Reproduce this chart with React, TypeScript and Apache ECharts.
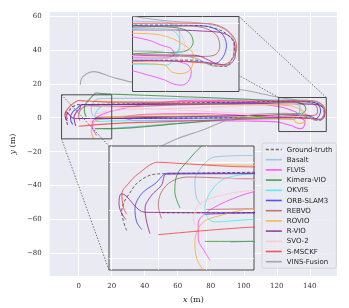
import React, { useEffect, useRef } from 'react';
import * as echarts from 'echarts';

// ---------- data ----------
const xTicks = [0, 20, 40, 60, 80, 100, 120, 140];
const yTicks = [-80, -60, -40, -20, 0, 20, 40, 60];

const seriesNames = ['Ground-truth', 'Basalt', 'FLVIS', 'Kimera-VIO', 'OKVIS', 'ORB-SLAM3', 'REBVO', 'ROVIO', 'R-VIO', 'SVO-2', 'S-MSCKF', 'VINS-Fusion'];
const seriesColors = ['#555555', '#8FC1E3', '#FF3DFF', '#2F922F', '#3FEFEF', '#3A3AF5', '#B5605F', '#FFAA33', '#8E1E8E', '#FFC2CE', '#F43C3C', '#9A9A9A'];

const gtPath = [[-6.7, -4.2], [-7.75, -0.3], [-7.2, 1.8], [-6.35, 3.2], [-4.25, 5.95], [-0.76, 7.6], [2, 7.7], [20, 8.0], [60, 8.6], [100, 9.2], [125, 9.6], [138, 9.5], [144, 8.6], [147.5, 6.5], [148.8, 4], [148.2, 0.8], [146.3, -1.5], [143.5, -1.3], [138, 0.2], [100, 0.0], [60, -0.3], [20, -0.5], [0.6, -0.5]];
const basaltPath = [[9, 1.1], [8, 2.5], [7.6, 5.95], [9, 9.1], [11.8, 11.2], [19.9, 11.5], [60, 11.2], [100, 10.8], [129, 10.5], [132.6, 9.6], [134, 7.4], [134, 4.2], [132.6, 1.6], [130.8, 0.7], [120, 0.3], [80, -2], [40, -4.8], [20, -6.4], [15, -6.7]];
const flvisPath = [[10.8, -10.5], [9.7, -8.7], [8.3, -5.9], [8.3, -2.8], [9.7, -0.7], [14, 1.8], [20, 3.9], [40, 7.8], [70, 10.3], [100, 9.8], [115, 7.5], [125.4, 5.6], [129, 4.2], [131.7, 3.3], [132.5, 1.8], [129, 0.8], [110, 1], [70, 2.5], [40, 2], [28, 0], [35, -1.8], [60, -1.6], [100, -2], [120, -2.5], [125.4, -3.8], [129.9, -5.1], [131.7, -6], [134.4, -6.5], [136.2, -5.6], [137.1, -2.9], [136.2, -1.1], [133.5, -0.2]];
const kimeraPath = [[4.5, 0.5], [3.4, 3.9], [3.8, 7.3], [6.2, 10.5], [9, 13.5], [10.5, 14.6], [14, 14.2], [20, 13.9], [60, 12.5], [100, 11], [125, 9.3], [133, 8.9], [136.3, 7.8], [137.6, 5.1], [136.7, 3.3], [134.4, 2.4], [128, 2.2], [120, 1.8], [90, -1], [60, -3.5], [20, -6.5], [9.7, -6.5]];
const okvisPath = [[30, 8.0], [19.9, 7.7], [13.9, 6.65], [11.1, 4.2], [9.7, 0.4], [10.4, -1.75], [11.8, -2.4], [19.9, -1.9], [60, -1.5], [110, -1.0], [127.2, -0.9], [130.3, -1.1], [133, 1.1], [134, 4.2], [133.5, 6.9], [130.8, 8.6], [125, 8.7], [100, 8.5], [60, 8.1], [30, 8.0]];
const orbPath = [[-3.55, -4.0], [-4.6, -2.4], [-4.95, 0.4], [-3.55, 3.5], [-0.76, 5.6], [2, 7.8], [20, 7.8], [60, 8.4], [100, 9.0], [130, 9.4], [140, 9.4], [143.5, 8.6], [145.7, 6.9], [146.6, 4.2], [145.7, 1.1], [143.4, -0.7], [140.7, -0.3], [120, 0.1], [80, -0.2], [40, -0.4], [19.9, -0.5], [9.7, -0.8]];
const rebvoPath = [[0.6, -1.7], [-0.06, 1.05], [0.6, 3.86], [2.74, 6.1], [6.24, 7.0], [20, 6.6], [60, 7.5], [100, 8.5], [128, 9.2], [136, 9.4], [141, 8.7], [144, 6.8], [144.8, 3.8], [143.5, 1.6], [140, 1.2], [120, 1.4], [80, 1.0], [40, 0.6], [10, 0.2]];
const rovioPath = [[9, 9.6], [20, 9.45], [60, 8.5], [100, 7.6], [121.2, 7.4], [129, 6.9], [135.3, 4.2], [137.6, 1.55], [137.1, -2], [134.4, -3.4], [131.7, -2.9], [129.9, -1.1], [120, -0.6], [90, 1], [60, 2], [20, 0.4], [11.8, -1.4], [9, -2.8], [7.6, -6.6], [8, -10.1], [9.4, -12.6]];
const rvioPath = [[-1.8, -4.9], [-2.5, -2.4], [-2.85, 0.4], [-1.45, 3.2], [0.6, 5.25], [1.7, 7.6], [20, 7.7], [60, 8.0], [100, 8.2], [130, 8.3], [140, 8.0], [146.1, 7.3], [148.8, 4.8], [149, 1.5], [147, -1.1], [143.9, -0.7], [138, 1.5], [120, 1.6], [80, 0.8], [40, 0], [19.9, -0.5], [-2.8, -0.4], [-7.75, 3.5], [-8.3, 1.4], [-7.9, -0.3], [-6.9, -1.9]];
const svoPath = [[7.6, -3.1], [7.3, -1.75], [8.3, 1.06], [11.8, 2.8], [20, 4.2], [60, 5.5], [100, 7], [128, 8.4], [132, 8.3], [134.4, 6.9], [135.3, 4.2], [134.4, 1.6], [132.6, 0.7], [120, 1.5], [60, 4.5], [20, 6.4], [13, 6.8]];
const msckfPath = [[-6.7, -0.8], [-7.4, 0.7], [-7.7, 3.5], [-6.35, 5.6], [-4.25, 7.7], [-0.1, 10.1], [5, 9.8], [20, 9.1], [60, 9.3], [100, 9.8], [130, 10.1], [141.6, 10.0], [146.1, 8.7], [148.8, 6.0], [149.3, 3.3], [147.9, 0.2], [145.2, -1.1], [142.5, -0.7], [130, 0.0], [90, -1.2], [50, -2.5], [19.9, -3.5], [-0.1, -5.1]];
const vinsPath = [[1, 19.5], [1.6, 22.8], [4.5, 25.8], [9.2, 27.2], [20, 24], [35.7, 20.4], [60, 18.8], [98, 16.5], [121, 12], [132, 10.6], [141, 10], [146, 8.5], [148.5, 5.5], [148.6, 2], [146.5, -1.2], [143.5, -1.4], [138, 0.8], [125, 2.6], [110, 2.2], [90, -1.5], [76, -7], [58.2, -13], [40, -22], [25, -31.5], [18.8, -36.5]];

const paths = [gtPath, basaltPath, flvisPath, kimeraPath, okvisPath, orbPath, rebvoPath, rovioPath, rvioPath, svoPath, msckfPath, vinsPath];

// zoom regions (data units)
const rightBoxX = [121.2, 150];
const rightBoxY = [-8.2, 11.9];
const leftBoxX = [-10.4, 20];
const leftBoxY = [-12.5, 13.5];
const rightInsetTicksX = [130, 140];
const rightInsetTicksY = [0, 10];
const leftInsetTicks = [-10, 0, 10];

// ---------- layout ----------
const MAIN = { left: 41, top: 12, width: 296, height: 265 };
const TOP_INSET = { left: 132.5, top: 16.5, width: 106.5, height: 75 };
const BOT_INSET = { left: 109, top: 146, width: 145, height: 124 };

const fmt = (v: number) => (v < 0 ? '\u2212' + Math.abs(v) : String(v));
const serif = 'DejaVu Serif';

export default function App() {
  const ref = useRef<HTMLDivElement>(null);
  useEffect(() => {
    const chart = echarts.init(ref.current!, null, { renderer: 'svg' });

    const insetAxis = (grid: number, min: number, max: number, ticks: number[]) => ({
      type: 'value', gridIndex: grid, min, max, z: 5,
      axisLine: { show: false }, axisLabel: { show: false },
      axisTick: { show: false, customValues: ticks },
      splitLine: { show: true, lineStyle: { color: '#ffffff', width: 0.8 } },
    });

    const series: any[] = [];
    [0, 1, 2].forEach((g) => {
      paths.forEach((p, i) => {
        series.push({
          type: 'line', name: seriesNames[i], data: p,
          xAxisIndex: g, yAxisIndex: g, symbol: 'none', smooth: 0.35,
          clip: true, silent: true, z: g === 0 ? 2 : 6,
          color: seriesColors[i],
          lineStyle: {
            color: seriesColors[i], width: g === 0 ? 1.1 : 1,
            opacity: i === 0 ? 0.9 : 0.8,
            type: i === 0 ? [3, 2] : 'solid',
          },
        });
      });
    });

    chart.setOption({
      animation: false,
      grid: [
        { ...MAIN, show: true, backgroundColor: '#EAEAF2', borderWidth: 0 },
        { ...TOP_INSET, show: true, backgroundColor: '#EAEAF2', borderColor: '#4a4a4a', borderWidth: 1, z: 5 },
        { ...BOT_INSET, show: true, backgroundColor: '#EAEAF2', borderColor: '#4a4a4a', borderWidth: 1, z: 5 },
      ],
      xAxis: [
        {
          type: 'value', gridIndex: 0, min: -17.6, max: 156.5,
          axisLine: { show: false },
          axisTick: { show: false, customValues: xTicks },
          axisLabel: { customValues: xTicks, formatter: fmt, fontFamily: serif, fontSize: 7, color: '#333', margin: 6 },
          splitLine: { show: true, lineStyle: { color: '#ffffff', width: 1 } },
          name: '{it|x} (m)', nameLocation: 'middle', nameGap: 19,
          nameTextStyle: { fontFamily: serif, fontSize: 8, color: '#222', rich: { it: { fontFamily: serif, fontStyle: 'italic', fontSize: 8, color: '#222' } } },
        },
        insetAxis(1, rightBoxX[0], rightBoxX[1], rightInsetTicksX),
        insetAxis(2, leftBoxX[0], leftBoxX[1], leftInsetTicks),
      ],
      yAxis: [
        {
          type: 'value', gridIndex: 0, min: -93.5, max: 62.4,
          axisLine: { show: false },
          axisTick: { show: false, customValues: yTicks },
          axisLabel: { customValues: yTicks, formatter: fmt, fontFamily: serif, fontSize: 7, color: '#333', margin: 8 },
          splitLine: { show: true, lineStyle: { color: '#ffffff', width: 1 } },
          name: '{it|y} (m)', nameLocation: 'middle', nameGap: 24, nameRotate: 90,
          nameTextStyle: { fontFamily: serif, fontSize: 8, color: '#222', rich: { it: { fontFamily: serif, fontStyle: 'italic', fontSize: 8, color: '#222' } } },
        },
        insetAxis(1, rightBoxY[0], rightBoxY[1], rightInsetTicksY),
        insetAxis(2, leftBoxY[0], leftBoxY[1], leftInsetTicks),
      ],
      legend: {
        data: seriesNames, orient: 'vertical', left: 262, top: 143,
        itemWidth: 16, itemHeight: 7.3, itemGap: 3.2,
        itemStyle: { opacity: 0 },
        lineStyle: { width: 1.6, opacity: 0.85 },
        backgroundColor: 'rgba(234,234,242,0.85)', borderColor: '#cfcfcf', borderWidth: 0.8, borderRadius: 2,
        padding: [3, 4, 3, 3], selectedMode: false,
        textStyle: { fontFamily: 'DejaVu Sans', fontSize: 7, color: '#262626' },
        z: 8,
      },
      series,
    });

    const px = (x: number, y: number) => chart.convertToPixel({ gridIndex: 0 } as any, [x, y]) as number[];
    const rTL = px(rightBoxX[0], rightBoxY[1]);
    const rBR = px(rightBoxX[1], rightBoxY[0]);
    const lTL = px(leftBoxX[0], leftBoxY[1]);
    const lBR = px(leftBoxX[1], leftBoxY[0]);
    const boxStyle = { fill: 'none', stroke: '#4a4a4a', lineWidth: 1 };
    const connStyle = { stroke: '#444', lineWidth: 0.7, lineDash: [1.5, 1.5] };
    chart.setOption({
      graphic: [
        { type: 'rect', z: 4, silent: true, shape: { x: rTL[0], y: rTL[1], width: rBR[0] - rTL[0], height: rBR[1] - rTL[1] }, style: boxStyle },
        { type: 'rect', z: 4, silent: true, shape: { x: lTL[0], y: lTL[1], width: lBR[0] - lTL[0], height: lBR[1] - lTL[1] }, style: boxStyle },
        { type: 'line', z: 3, silent: true, shape: { x1: rTL[0], y1: rTL[1], x2: TOP_INSET.left, y2: TOP_INSET.top }, style: connStyle },
        { type: 'line', z: 3, silent: true, shape: { x1: rBR[0], y1: rTL[1], x2: TOP_INSET.left + TOP_INSET.width, y2: TOP_INSET.top }, style: connStyle },
        { type: 'line', z: 3, silent: true, shape: { x1: lTL[0], y1: lTL[1], x2: BOT_INSET.left, y2: BOT_INSET.top }, style: connStyle },
        { type: 'line', z: 3, silent: true, shape: { x1: lTL[0], y1: lBR[1], x2: BOT_INSET.left, y2: BOT_INSET.top + BOT_INSET.height }, style: connStyle },
      ],
    });

    return () => chart.dispose();
  }, []);
  return <div ref={ref} style={{ position: 'fixed', left: 0, top: 0, width: 349, height: 308 }} />;
}
